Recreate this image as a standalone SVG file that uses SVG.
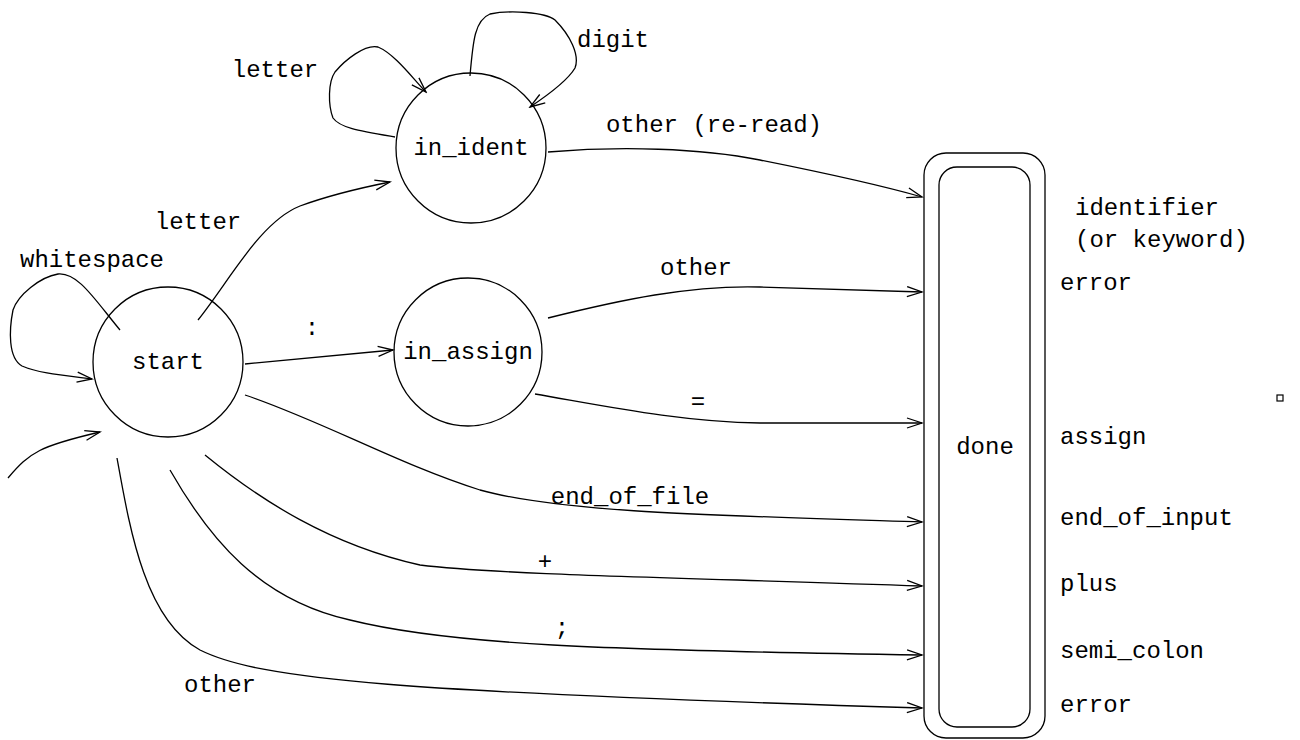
<svg xmlns="http://www.w3.org/2000/svg" width="1300" height="740" viewBox="0 0 1300 740">
  <style>
    .state { fill: none; stroke: #000; stroke-width: 1.3; }
    .edge { fill: none; stroke: #000; stroke-width: 1.3; marker-end: url(#arrow); }
    text { font-family: "Liberation Mono", "DejaVu Sans Mono", monospace; font-size: 24px; fill: #000; }
    .mid { text-anchor: middle; dominant-baseline: central; }
    .lft { text-anchor: start; dominant-baseline: central; }
  </style>
  <defs>
    <marker id="arrow" markerUnits="userSpaceOnUse" markerWidth="18" markerHeight="12" refX="16" refY="6" orient="auto">
      <path d="M1,1 L16,6 L1,11" fill="none" stroke="#000" stroke-width="1.3"/>
    </marker>
  </defs>
  <rect width="1300" height="740" fill="#fff"/>

  <!-- states -->
  <g id="start">
    <circle class="state" cx="168" cy="362" r="75"/>
    <text class="mid" x="168" y="362">start</text>
  </g>
  <g id="in_ident">
    <circle class="state" cx="471" cy="148" r="75"/>
    <text class="mid" x="471" y="148">in_ident</text>
  </g>
  <g id="in_assign">
    <circle class="state" cx="468" cy="352" r="74"/>
    <text class="mid" x="468" y="352">in_assign</text>
  </g>
  <g id="done">
    <rect class="state" x="924" y="153" width="121" height="585" rx="22"/>
    <rect class="state" x="939" y="167" width="91" height="560" rx="18"/>
    <text class="mid" x="985" y="447">done</text>
  </g>

  <!-- connectors -->
  <g id="edges">
    <path class="edge" d="M8,478 C30,452 40,446 100,432"/>
    <path class="edge" d="M120,330 C95,300 78,272 58,274 C40,277 18,295 13,310 C9,330 8,358 22,366 C38,373 60,375 92,379"/>
    <path class="edge" d="M198,320 C230,280 260,222 300,206 C330,195 360,188 390,182"/>
    <path class="edge" d="M395,137 C360,131 340,128 333,118 C328,105 328,82 335,72 C345,60 365,44 378,47 C395,54 414,80 426,92"/>
    <path class="edge" d="M470,76 C473,40 475,20 490,14 C510,10 545,12 555,20 C570,35 580,55 575,68 C568,80 548,95 530,107"/>
    <path class="edge" d="M548,152 C620,146 700,148 760,160 C820,172 880,185 922,197"/>
    <path class="edge" d="M245,364 L393,350"/>
    <path class="edge" d="M548,318 C620,300 690,285 760,287 L922,292"/>
    <path class="edge" d="M535,394 C600,405 680,422 760,423 L922,423"/>
    <path class="edge" d="M245,395 C320,420 400,465 480,490 C560,512 700,515 922,522"/>
    <path class="edge" d="M205,455 C260,500 330,545 420,565 C500,575 700,578 922,586"/>
    <path class="edge" d="M170,470 C210,540 260,600 350,620 C450,645 600,650 922,655"/>
    <path class="edge" d="M117,458 C130,530 145,620 200,650 C260,680 400,692 922,708"/>
  </g>

  <!-- transition labels -->
  <g id="edge-labels">
    <text class="mid" x="714" y="125">other (re-read)</text>
    <text class="mid" x="92" y="260">whitespace</text>
    <text class="mid" x="198" y="222">letter</text>
    <text class="mid" x="275" y="70">letter</text>
    <text class="mid" x="613" y="40">digit</text>
    <text class="mid" x="696" y="268">other</text>
    <text class="mid" x="312" y="328">:</text>
    <text class="mid" x="698" y="402">=</text>
    <text class="mid" x="630" y="497">end_of_file</text>
    <text class="mid" x="545" y="562">+</text>
    <text class="mid" x="562" y="628">;</text>
    <text class="mid" x="220" y="685">other</text>
  </g>

  <!-- token outputs -->
  <g id="tokens">
    <text class="lft" x="1075" y="208">identifier</text>
    <text class="lft" x="1075" y="240">(or keyword)</text>
    <text class="lft" x="1060" y="283">error</text>
    <text class="lft" x="1060" y="437">assign</text>
    <text class="lft" x="1060" y="518">end_of_input</text>
    <text class="lft" x="1060" y="584">plus</text>
    <text class="lft" x="1060" y="651">semi_colon</text>
    <text class="lft" x="1060" y="705">error</text>
  </g>

  <rect x="1277" y="395" width="6" height="6" fill="none" stroke="#000" stroke-width="1.2"/>
</svg>
